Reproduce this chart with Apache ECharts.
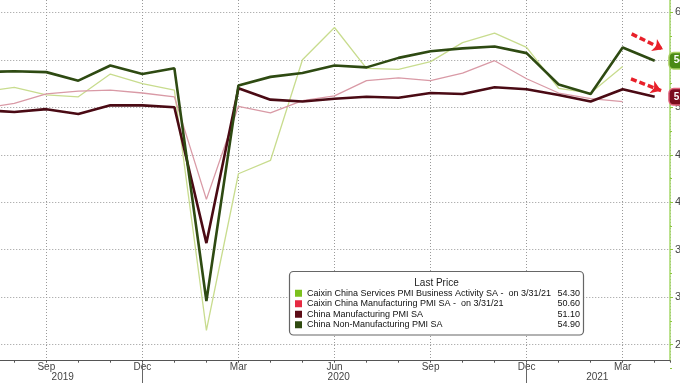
<!DOCTYPE html>
<html>
<head>
<meta charset="utf-8">
<script src="https://cdn.jsdelivr.net/npm/echarts@6/dist/echarts.min.js"></script>
<style>
html,body{margin:0;padding:0;background:#fff;}
#c{width:680px;height:383px;}
</style>
</head>
<body>
<div id="c"></div>
<script>
// Months Jul 2019 .. Apr 2021 (index 0 = Sep 2019)
const months = ['2019-07','2019-08','2019-09','2019-10','2019-11','2019-12','2020-01','2020-02','2020-03','2020-04','2020-05','2020-06','2020-07','2020-08','2020-09','2020-10','2020-11','2020-12','2021-01','2021-02','2021-03','2021-04'];
const firstIndex = -2;
const caixinServices = [51.6,52.1,51.3,51.1,53.5,52.5,51.8,26.5,43.0,44.4,55.0,58.4,54.1,54.0,54.8,56.8,57.8,56.3,52.0,51.5,54.3];
const caixinMfg = [49.9,50.4,51.4,51.7,51.8,51.5,51.1,40.3,50.1,49.4,50.7,51.2,52.8,53.1,52.8,53.6,54.9,53.0,51.5,50.9,50.6];
const chinaMfg = [49.7,49.5,49.8,49.3,50.2,50.2,50.0,35.7,52.0,50.8,50.6,50.9,51.1,51.0,51.5,51.4,52.1,51.9,51.3,50.6,51.9,51.1];
const chinaNonMfg = [53.7,53.8,53.7,52.8,54.4,53.5,54.1,29.6,52.3,53.2,53.6,54.4,54.2,55.2,55.9,56.2,56.4,55.7,52.4,51.4,56.3,54.9];
const monthNames = ['Jan','Feb','Mar','Apr','May','Jun','Jul','Aug','Sep','Oct','Nov','Dec'];
const yTicks = [25,30,35,40,45,50,55,60];
const seriesNames = [
  'Caixin China Services PMI Business Activity SA -  on 3/31/21',
  'Caixin China Manufacturing PMI SA -  on 3/31/21',
  'China Manufacturing PMI SA',
  'China Non-Manufacturing PMI SA'
];
const lastValues = [caixinServices, caixinMfg, chinaMfg, chinaNonMfg].map(a => a[a.length-1].toFixed(2));

function toPairs(arr){ return arr.map((v,i)=>[firstIndex+i, v]); }
function monthLabel(idx){
  const m = months[idx - firstIndex];
  if(!m) return '';
  return monthNames[parseInt(m.slice(5),10)-1];
}

const chart = echarts.init(document.getElementById('c'), null, {renderer:'canvas'});
const FONT = 'Liberation Sans, Arial, sans-serif';
const dotted = {color:'#999', width:1, type:[1,2]};
const X0 = -49.76, XW = 719.76, XMIN = -3, XMAX = 19.478;

const option = {
  animation:false,
  backgroundColor:'#ffffff',
  grid:[
    {left:X0, width:XW, top:-35.2, height:427.4, containLabel:false, outerBoundsMode:'none'},
    {left:X0, width:XW, top:0, height:360.7, containLabel:false, outerBoundsMode:'none'}
  ],
  xAxis:[
    {gridIndex:0, type:'value', min:XMIN, max:XMAX, show:false},
    {gridIndex:1, type:'value', min:XMIN, max:XMAX, interval:1, position:'bottom',
     axisLine:{show:true, onZero:false, lineStyle:{color:'#555', width:1.2}},
     axisTick:{show:true, length:2, inside:false, lineStyle:{color:'#555'}},
     axisLabel:{show:false}, splitLine:{show:false}},
    {gridIndex:1, type:'value', min:XMIN, max:XMAX, interval:3, position:'bottom',
     axisLine:{show:false, onZero:false}, axisTick:{show:false},
     axisLabel:{show:true, margin:2, color:'#444', fontFamily:FONT, fontSize:10,
       formatter:(v)=> (v>XMIN && v<XMAX) ? monthLabel(v) : ''},
     splitLine:{show:true, lineStyle:dotted}}
  ],
  yAxis:[
    {gridIndex:0, type:'value', min:20, max:65, interval:5, position:'right',
     axisLine:{show:false, onZero:false},
     axisTick:{show:true, length:3, lineStyle:{color:'#8cc63f'}},
     minorTick:{show:true, splitNumber:2, length:2, lineStyle:{color:'#8cc63f'}},
     axisLabel:{show:true, margin:5, color:'#444', fontFamily:FONT, fontSize:11,
       formatter:(v)=> yTicks.indexOf(v)>=0 ? String(v) : ''},
     splitLine:{show:true, lineStyle:dotted}},
    {gridIndex:1, type:'value', min:0, max:1, position:'right', show:true,
     axisLine:{show:true, onZero:false, lineStyle:{color:'#a6d86a', width:1.5}},
     axisTick:{show:false}, axisLabel:{show:false}, splitLine:{show:false}}
  ],
  legend:{
    show:true, orient:'vertical', left:295, top:288, padding:0, itemWidth:7, itemHeight:7, itemGap:0,
    icon:'rect', selectedMode:false, z:6,
    data:[
      {name:seriesNames[0], itemStyle:{color:'#7cc11e', borderWidth:0}},
      {name:seriesNames[1], itemStyle:{color:'#e62a42', borderWidth:0}},
      {name:seriesNames[2], itemStyle:{color:'#5c0c16', borderWidth:0}},
      {name:seriesNames[3], itemStyle:{color:'#2f4a10', borderWidth:0}}
    ],
    formatter:(name)=>{
      const i = seriesNames.indexOf(name);
      return '{n|'+name+'}{v|'+lastValues[i]+'}';
    },
    textStyle:{fontFamily:FONT, fontSize:9, color:'#111', lineHeight:10.5,
      rich:{n:{width:242, fontFamily:FONT, fontSize:9, color:'#111', lineHeight:10.5},
            v:{width:31, align:'right', fontFamily:FONT, fontSize:9, color:'#111', lineHeight:10.5}}}
  },
  graphic:[
    {type:'rect', z:5, shape:{x:289.5, y:271.5, width:294, height:63.5, r:4},
     style:{fill:'#ffffff', stroke:'#666', lineWidth:1.2}},
    {type:'text', z:6, x:436.5, y:283.3, style:{text:'Last Price', font:'10px '+FONT, fill:'#222', textAlign:'center', textVerticalAlign:'middle'}},
    {type:'text', z:6, x:62.7, y:377.3, style:{text:'2019', font:'10px '+FONT, fill:'#444', textAlign:'center', textVerticalAlign:'middle'}},
    {type:'text', z:6, x:338.7, y:377.3, style:{text:'2020', font:'10px '+FONT, fill:'#444', textAlign:'center', textVerticalAlign:'middle'}},
    {type:'text', z:6, x:597.3, y:377.3, style:{text:'2021', font:'10px '+FONT, fill:'#444', textAlign:'center', textVerticalAlign:'middle'}},
    {type:'line', z:6, shape:{x1:142.5, y1:363, x2:142.5, y2:383}, style:{stroke:'#666', lineWidth:1}},
    {type:'line', z:6, shape:{x1:526.5, y1:363, x2:526.5, y2:383}, style:{stroke:'#666', lineWidth:1}}
  ],
  series:[
    {name:seriesNames[0], type:'line', xAxisIndex:0, yAxisIndex:0, data:toPairs(caixinServices),
     showSymbol:false, symbol:'none', clip:false, z:2, color:'#c8dc8e', lineStyle:{color:'#c8dc8e', width:1.3}},
    {name:seriesNames[1], type:'line', xAxisIndex:0, yAxisIndex:0, data:toPairs(caixinMfg),
     showSymbol:false, symbol:'none', clip:false, z:2, color:'#d99aa6', lineStyle:{color:'#d99aa6', width:1.3}},
    {name:seriesNames[2], type:'line', xAxisIndex:0, yAxisIndex:0, data:toPairs(chinaMfg),
     showSymbol:false, symbol:'none', clip:false, z:3, color:'#4a0a14', lineStyle:{color:'#4a0a14', width:2.6},
     endLabel:{show:true, distance:15, formatter:(p)=>p.value[1].toFixed(1), color:'#fff', fontWeight:'bold', fontFamily:FONT, fontSize:10,
       backgroundColor:'#7a0c1e', borderColor:'#e0607a', borderWidth:1.5, borderRadius:4, padding:[3,3,2,4]},
     markLine:{silent:true, symbol:['none','arrow'], symbolSize:[10,10], label:{show:false},
       lineStyle:{color:'#e8202a', width:3.5, type:[6,3]},
       data:[[{coord:[18.26,52.98]},{coord:[19.2,51.75]}]]}},
    {name:seriesNames[3], type:'line', xAxisIndex:0, yAxisIndex:0, data:toPairs(chinaNonMfg),
     showSymbol:false, symbol:'none', clip:false, z:3, color:'#2e4a12', lineStyle:{color:'#2e4a12', width:2.6},
     endLabel:{show:true, distance:15, formatter:(p)=>p.value[1].toFixed(1), color:'#fff', fontWeight:'bold', fontFamily:FONT, fontSize:10,
       backgroundColor:'#4a8a14', borderColor:'#a8d060', borderWidth:1.5, borderRadius:4, padding:[3,3,2,4]},
     markLine:{silent:true, symbol:['none','arrow'], symbolSize:[10,10], label:{show:false},
       lineStyle:{color:'#e8202a', width:3.5, type:[6,3]},
       data:[[{coord:[18.28,57.72]},{coord:[19.26,56.1]}]]}}
  ]
};
chart.setOption(option);
</script>
</body>
</html>
